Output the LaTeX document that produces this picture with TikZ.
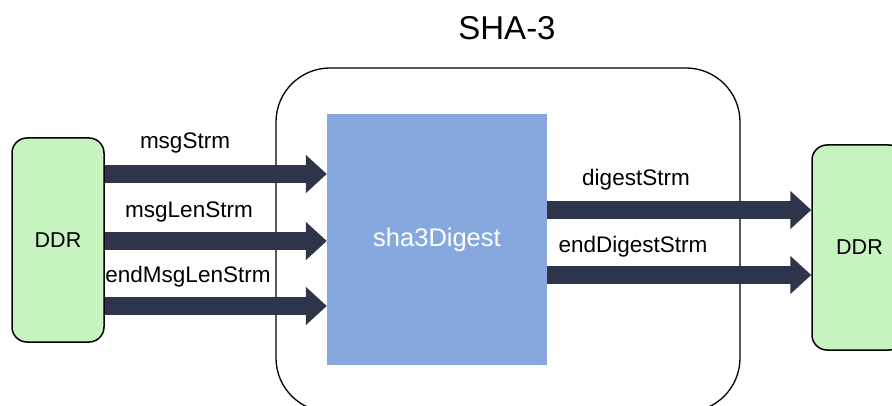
\documentclass[tikz,border=0pt]{standalone}
\usepackage{fontspec}
\setmainfont{Liberation Sans}
\usetikzlibrary{arrows.meta}
\definecolor{ddrgreen}{HTML}{C6F3C0}
\definecolor{coreblue}{HTML}{86A8DF}
\definecolor{navy}{HTML}{2E3449}
\tikzset{
  ddrbox/.style={draw=black, line width=1.5pt, fill=ddrgreen, rounded corners=15pt,
    minimum width=92pt, minimum height=204pt, inner sep=0pt, font=\fontsize{21.5}{24}\selectfont},
  bigarrow/.style={draw=navy, line width=18pt,
    -{Triangle[length=21pt,width=37pt]}},
  lbl/.style={font=\fontsize{22.5}{26}\selectfont, inner sep=0pt}
}
\begin{document}
\begin{tikzpicture}[x=1pt,y=-1pt]
\useasboundingbox (0,0) rectangle (892,406);
\begin{scope}
\clip (0,0) rectangle (892,406);
% outer SHA-3 container
\node[draw=black, line width=1.3pt, rounded corners=54pt, minimum width=464pt,
  minimum height=344pt, inner sep=0pt] (outer) at (508,240) {};
% core
\node[fill=coreblue, minimum width=220pt, minimum height=251pt, inner sep=0pt,
  text=white, font=\fontsize{25.5}{28}\selectfont] (core) at (437,239.5) {\raisebox{-2pt}{sha3Digest}};
% DDR boxes
\node[ddrbox] (ddrL) at (58,240) {DDR};
\node[ddrbox, minimum height=205pt] (ddrR) at (858,247.5) {\hspace*{3pt}DDR};
\end{scope}
\node[font=\fontsize{33}{38}\selectfont, inner sep=0pt] (title) at (507,28) {SHA-3};
% row levels
\coordinate (r1) at (0,174);
\coordinate (r2) at (0,241);
\coordinate (r3) at (0,306);
\coordinate (r4) at (0,210);
\coordinate (r5) at (0,275);
% arrows
\draw[bigarrow] (ddrL.east |- r1) -- (core.west |- r1);
\draw[bigarrow] (ddrL.east |- r2) -- (core.west |- r2);
\draw[bigarrow] (ddrL.east |- r3) -- (core.west |- r3);
\draw[bigarrow] (core.east |- r4) -- (ddrR.west |- r4);
\draw[bigarrow] (core.east |- r5) -- (ddrR.west |- r5);
% labels
\node[lbl] (l1) at (185,143) {msgStrm};
\node[lbl] (l2) at (189,212) {msgLenStrm};
\node[lbl] (l3) at (188,277) {endMsgLenStrm};
\node[lbl] (l4) at (636,180) {digestStrm};
\node[lbl] (l5) at (633,247) {endDigestStrm};
\end{tikzpicture}
\end{document}
